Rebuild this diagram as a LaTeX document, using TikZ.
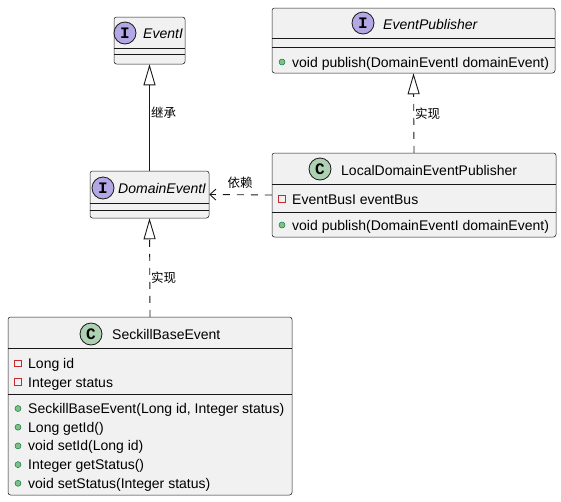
\documentclass[tikz,border=0pt]{standalone}
\usepackage{fontspec}
\setmainfont{Liberation Sans}
\newfontfamily\cjkfont{Noto Sans CJK SC}
\newfontfamily\spotfont{Liberation Mono}
\usetikzlibrary{arrows.meta}
\definecolor{boxfill}{HTML}{F1F1F1}
\definecolor{edge}{HTML}{181818}
\definecolor{ifacespot}{HTML}{B4A7E5}
\definecolor{classspot}{HTML}{ADD1B2}
\definecolor{pubfill}{HTML}{84BE84}
\definecolor{pubedge}{HTML}{038048}
\definecolor{privedge}{HTML}{C82930}
\tikzset{
  classbox/.style={draw=edge, fill=boxfill, line width=0.5pt, rounded corners=2.5pt, inner sep=0pt},
  sepline/.style={draw=edge, line width=0.5pt},
  spot/.style={circle, draw=edge, line width=0.8pt, minimum size=22pt, inner sep=0pt,
               font=\spotfont\bfseries\fontsize{16}{16}\selectfont},
  ifacename/.style={anchor=base west, inner sep=0pt, font=\itshape\fontsize{14}{16}\selectfont},
  classname/.style={anchor=base west, inner sep=0pt, font=\fontsize{14}{16}\selectfont},
  member/.style={anchor=base west, inner sep=0pt, font=\fontsize{14}{16}\selectfont},
  pub/.style={circle, fill=pubfill, draw=pubedge, line width=0.5pt, minimum size=6pt, inner sep=0pt},
  priv/.style={rectangle, draw=privedge, line width=0.7pt, minimum size=6.5pt, inner sep=0pt},
  link/.style={draw=edge, line width=0.9pt},
  realize/.style={link, dash pattern=on 7pt off 7pt, -{Triangle[open, length=21pt, width=12pt]}},
  extend/.style={link, -{Triangle[open, length=21pt, width=12pt]}},
  depend/.style={link, dash pattern=on 7pt off 7pt, -{Straight Barb[length=6pt, width=11pt]}},
  lbl/.style={inner sep=0pt, font=\cjkfont\fontsize{12.5}{14}\selectfont}
}
\begin{document}
\begin{tikzpicture}[x=1pt, y=-1pt]
\useasboundingbox (0,0) rectangle (561,501);

% ---- EventI (interface) ----
\node[classbox, minimum width=71pt, minimum height=47pt] (eventI) at (149.5,40.5) {};
\draw[sepline] (eventI.west |- 0,48) -- (eventI.east |- 0,48);
\draw[sepline] (eventI.west |- 0,54) -- (eventI.east |- 0,54);
\node[spot, fill=ifacespot] (eventIspot) at (125,33) {I};
\node[ifacename] (eventIname) at (143,38) {EventI};

% ---- EventPublisher (interface) ----
\node[classbox, minimum width=283pt, minimum height=65pt] (publisher) at (413.5,40.5) {};
\draw[sepline] (publisher.west |- 0,38) -- (publisher.east |- 0,38);
\draw[sepline] (publisher.west |- 0,47) -- (publisher.east |- 0,47);
\node[spot, fill=ifacespot] (publisherspot) at (363,23) {I};
\node[ifacename] (publishername) at (383,29) {EventPublisher};
\node[pub] (publisherm1i) at (282,62) {};
\node[member] (publisherm1) at (292,67) {void publish(DomainEventI domainEvent)};

% ---- DomainEventI (interface) ----
\node[classbox, minimum width=119pt, minimum height=47pt] (domain) at (149.5,194.5) {};
\draw[sepline] (domain.west |- 0,203) -- (domain.east |- 0,203);
\draw[sepline] (domain.west |- 0,210) -- (domain.east |- 0,210);
\node[spot, fill=ifacespot] (domainspot) at (103,188) {I};
\node[ifacename] (domainname) at (118,193) {DomainEventI};

% ---- LocalDomainEventPublisher (class) ----
\node[classbox, minimum width=284pt, minimum height=84pt] (local) at (414,195) {};
\draw[sepline] (local.west |- 0,184) -- (local.east |- 0,184);
\draw[sepline] (local.west |- 0,212) -- (local.east |- 0,212);
\node[spot, fill=classspot] (localspot) at (320,169) {C};
\node[classname] (localname) at (341,175) {LocalDomainEventPublisher};
\node[priv] (locala1i) at (282,199) {};
\node[member] (locala1) at (292,204) {EventBusI eventBus};
\node[pub] (localm1i) at (282,225) {};
\node[member] (localm1) at (292,230) {void publish(DomainEventI domainEvent)};

% ---- SeckillBaseEvent (class) ----
\node[classbox, minimum width=284pt, minimum height=178pt] (seckill) at (150,406) {};
\draw[sepline] (seckill.west |- 0,348) -- (seckill.east |- 0,348);
\draw[sepline] (seckill.west |- 0,394) -- (seckill.east |- 0,394);
\node[spot, fill=classspot] (seckillspot) at (91,334) {C};
\node[classname] (seckillname) at (112,339.5) {SeckillBaseEvent};
\node[priv] (seckilla1i) at (18,363.5) {};
\node[member] (seckilla1) at (28,368.5) {Long id};
\node[priv] (seckilla2i) at (18,382) {};
\node[member] (seckilla2) at (28,387) {Integer status};
\node[pub] (seckillm1i) at (18,408.5) {};
\node[member] (seckillm1) at (28,413.5) {SeckillBaseEvent(Long id, Integer status)};
\node[pub] (seckillm2i) at (18,427.2) {};
\node[member] (seckillm2) at (28,432.2) {Long getId()};
\node[pub] (seckillm3i) at (18,445.9) {};
\node[member] (seckillm3) at (28,450.9) {void setId(Long id)};
\node[pub] (seckillm4i) at (18,464.6) {};
\node[member] (seckillm4) at (28,469.6) {Integer getStatus()};
\node[pub] (seckillm5i) at (18,483.3) {};
\node[member] (seckillm5) at (28,488.3) {void setStatus(Integer status)};

% ---- relations ----
\draw[extend] (domain.north) -- (eventI.south);
\node[lbl, anchor=west] (lblextend) at (151,113) {继承};

\draw[realize] (local.north) -- (publisher.south);
\node[lbl, anchor=west] (lblrealize1) at (415,114) {实现};

\draw[realize] (seckill.north) -- (domain.south);
\node[lbl, anchor=west] (lblrealize2) at (151,278) {实现};

\draw[depend] (local.west) -- (domain.east);
\node[lbl] (lbldepend) at (240,183) {依赖};
\end{tikzpicture}
\end{document}
